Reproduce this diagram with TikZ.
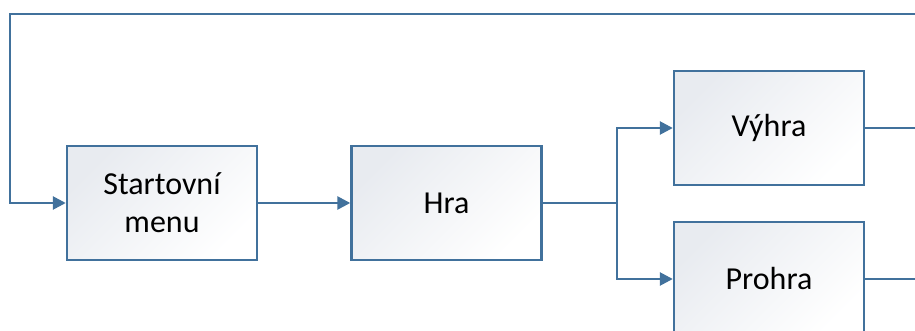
\documentclass[tikz,border=0pt]{standalone}
\usepackage{fontspec}
\setmainfont{Carlito}
\usetikzlibrary{arrows.meta}
\definecolor{lineblue}{HTML}{41719C}
\definecolor{boxtop}{HTML}{E8EBF0}
\tikzset{
  blk/.style={draw=lineblue, line width=1.2pt, top color=boxtop, bottom color=white, shading angle=45,
    minimum width=95pt, minimum height=57pt, inner sep=0pt, align=center,
    font=\fontsize{16}{19}\selectfont},
  conn/.style={draw=lineblue, line width=1.3pt},
  arr/.style={conn, -{Triangle[length=6.5pt,width=6.5pt]}}
}
\begin{document}
\begin{tikzpicture}[x=0.5pt,y=-0.5pt]
\useasboundingbox (0,0) rectangle (915,331);
\clip (0,0) rectangle (915,331);
\node[blk] (start) at (162,203) {Startovní\\menu};
\node[blk] (hra) at (446.5,203) {Hra};
\node[blk] (vyhra) at (769,128) {Výhra};
\node[blk] (prohra) at (769,279) {Prohra};
\coordinate (loopR) at (916,14);
\coordinate (loopL) at (10,14);
\coordinate (split) at (617,203);
\coordinate (vR) at (916,128);
\coordinate (pR) at (916,279);
\draw[arr] (loopR) -- (loopL) |- (start.west);
\draw[arr] (start.east) -- (hra.west);
\draw[conn] (hra.east) -- (split);
\draw[arr] (split) |- (vyhra.west);
\draw[arr] (split) |- (prohra.west);
\draw[conn] (vyhra.east) -- (vR);
\draw[conn] (prohra.east) -- (pR);
\end{tikzpicture}
\end{document}
